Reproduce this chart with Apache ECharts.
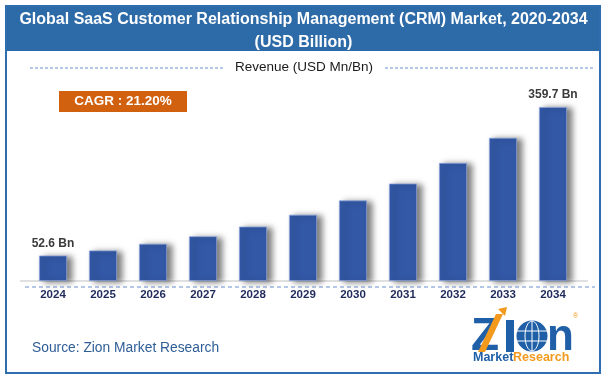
<!DOCTYPE html>
<html><head><meta charset="utf-8">
<script src="https://cdn.jsdelivr.net/npm/echarts@6/dist/echarts.min.js"></script>
<style>html,body{margin:0;padding:0;background:#fff}#c{width:607px;height:380px}</style>
</head><body><div id="c"></div>
<script>
const categories = ['2024','2025','2026','2027','2028','2029','2030','2031','2032','2033','2034'];
const revenue = [52.6, 63.1, 77.0, 92.5, 112.5, 137.0, 166.5, 201.5, 244.0, 296.0, 359.7];
const labelledYears = ['2024', '2034'];
const titleLine1 = 'Global SaaS Customer Relationship Management (CRM) Market, 2020-2034';
const titleLine2 = '(USD Billion)';
const legendText = 'Revenue (USD Mn/Bn)';
const cagrText = 'CAGR : 21.20%';
const sourceText = 'Source: Zion Market Research';

const F = '"Liberation Sans", Arial, sans-serif';
const chart = echarts.init(document.getElementById('c'), null, {renderer: 'canvas'});

const barData = revenue.map((v, i) => ({
  value: v,
  label: { show: labelledYears.includes(categories[i]) }
}));

chart.setOption({
  animation: false,
  backgroundColor: '#ffffff',
  grid: { left: 28, right: 29, top: 87.5, bottom: 99, containLabel: false },
  xAxis: {
    type: 'category', data: categories,
    axisLine: { show: false }, axisTick: { show: false },
    axisLabel: { fontFamily: F, fontWeight: 'bold', fontSize: 11.5, color: '#1f2a5c', margin: 8 }
  },
  yAxis: { type: 'value', min: 0, max: 400, show: false, splitLine: { show: false } },
  series: [{
    type: 'bar', data: barData, barWidth: 28,
    itemStyle: {
      color: '#3358a6', borderColor: 'rgba(140,165,220,0.9)', borderWidth: 0.8,
      shadowColor: 'rgba(0,0,0,0.5)', shadowBlur: 6, shadowOffsetX: 5, shadowOffsetY: 1
    },
    label: {
      position: 'top', distance: 6, fontFamily: F, fontWeight: 'bold', fontSize: 12, color: '#3a3a3a',
      formatter: p => p.value + ' Bn'
    }
  }],
  graphic: [
    { type: 'rect', shape: { x: 6, y: 6, width: 594, height: 367 }, style: { fill: 'none', stroke: '#2e6db0', lineWidth: 2 }, z: 10 },
    { type: 'rect', shape: { x: 6, y: 6, width: 594, height: 45 }, style: { fill: '#2d6aa8' }, z: 5 },
    { type: 'text', x: 303.5, y: 20, style: { text: titleLine1, fill: '#ffffff', font: 'bold 16px ' + F, align: 'center', verticalAlign: 'middle' }, z: 11 },
    { type: 'text', x: 303.5, y: 42.5, style: { text: titleLine2, fill: '#ffffff', font: 'bold 16px ' + F, align: 'center', verticalAlign: 'middle' }, z: 11 },
    { type: 'line', shape: { x1: 30, y1: 68, x2: 224, y2: 68 }, style: { stroke: '#6b8fcf', lineWidth: 1, lineDash: [3, 2] } },
    { type: 'line', shape: { x1: 385, y1: 68, x2: 595, y2: 68 }, style: { stroke: '#6b8fcf', lineWidth: 1, lineDash: [3, 2] } },
    { type: 'text', x: 304, y: 67, style: { text: legendText, fill: '#1a1a1a', font: '13.5px ' + F, align: 'center', verticalAlign: 'middle' } },
    { type: 'rect', shape: { x: 59, y: 91, width: 128, height: 21 }, style: { fill: '#d1600f' } },
    { type: 'text', x: 123, y: 101.5, style: { text: cagrText, fill: '#ffffff', font: 'bold 13.5px ' + F, align: 'center', verticalAlign: 'middle' } },
    { type: 'line', shape: { x1: 20, y1: 281, x2: 588, y2: 281 }, style: { stroke: '#d6d6d6', lineWidth: 1.5 }, z: 1 },
    { type: 'line', shape: { x1: 25, y1: 287, x2: 595, y2: 287 }, style: { stroke: '#6b8fcf', lineWidth: 1, lineDash: [4, 3] } },
    { type: 'text', x: 32, y: 348, style: { text: sourceText, fill: '#2f5d97', font: '13.8px ' + F, verticalAlign: 'middle' } },
    { type: 'group', children: [
      { type: 'text', x: 471, y: 337, style: { text: 'Z', fill: '#1f5fa8', font: 'bold 46px ' + F, verticalAlign: 'middle' } },
      { type: 'polygon', shape: { points: [[478, 352], [485, 352], [503, 314], [496, 314]] }, style: { fill: '#f39a1e' } },
      { type: 'polygon', shape: { points: [[498, 309], [507, 307], [505, 316]] }, style: { fill: '#f39a1e' } },
      { type: 'rect', shape: { x: 506, y: 320, width: 8, height: 32 }, style: { fill: '#1f5fa8' } },
      { type: 'circle', shape: { cx: 532, cy: 336, r: 15.5 }, style: { fill: '#1f5fa8' } },
      { type: 'ellipse', shape: { cx: 532, cy: 336, rx: 7, ry: 15 }, style: { fill: 'none', stroke: '#ffffff', lineWidth: 1 } },
      { type: 'line', shape: { x1: 517, y1: 331, x2: 547, y2: 331 }, style: { stroke: '#ffffff', lineWidth: 1 } },
      { type: 'line', shape: { x1: 517, y1: 341, x2: 547, y2: 341 }, style: { stroke: '#ffffff', lineWidth: 1 } },
      { type: 'line', shape: { x1: 532, y1: 321, x2: 532, y2: 351 }, style: { stroke: '#ffffff', lineWidth: 1 } },
      { type: 'text', x: 547, y: 338, style: { text: 'n', fill: '#1f5fa8', font: 'bold 44px ' + F, verticalAlign: 'middle' } },
      { type: 'text', x: 573, y: 316, style: { text: '®', fill: '#f39a1e', font: '7px ' + F, verticalAlign: 'middle' } },
      { type: 'text', x: 473, y: 358, style: { text: 'Market', fill: '#1f5fa8', font: 'bold 12.5px ' + F, verticalAlign: 'middle' } },
      { type: 'text', x: 513, y: 358, style: { text: 'Research', fill: '#f39a1e', font: 'bold 12.5px ' + F, verticalAlign: 'middle' } }
    ] }
  ]
});
</script>
</body></html>
